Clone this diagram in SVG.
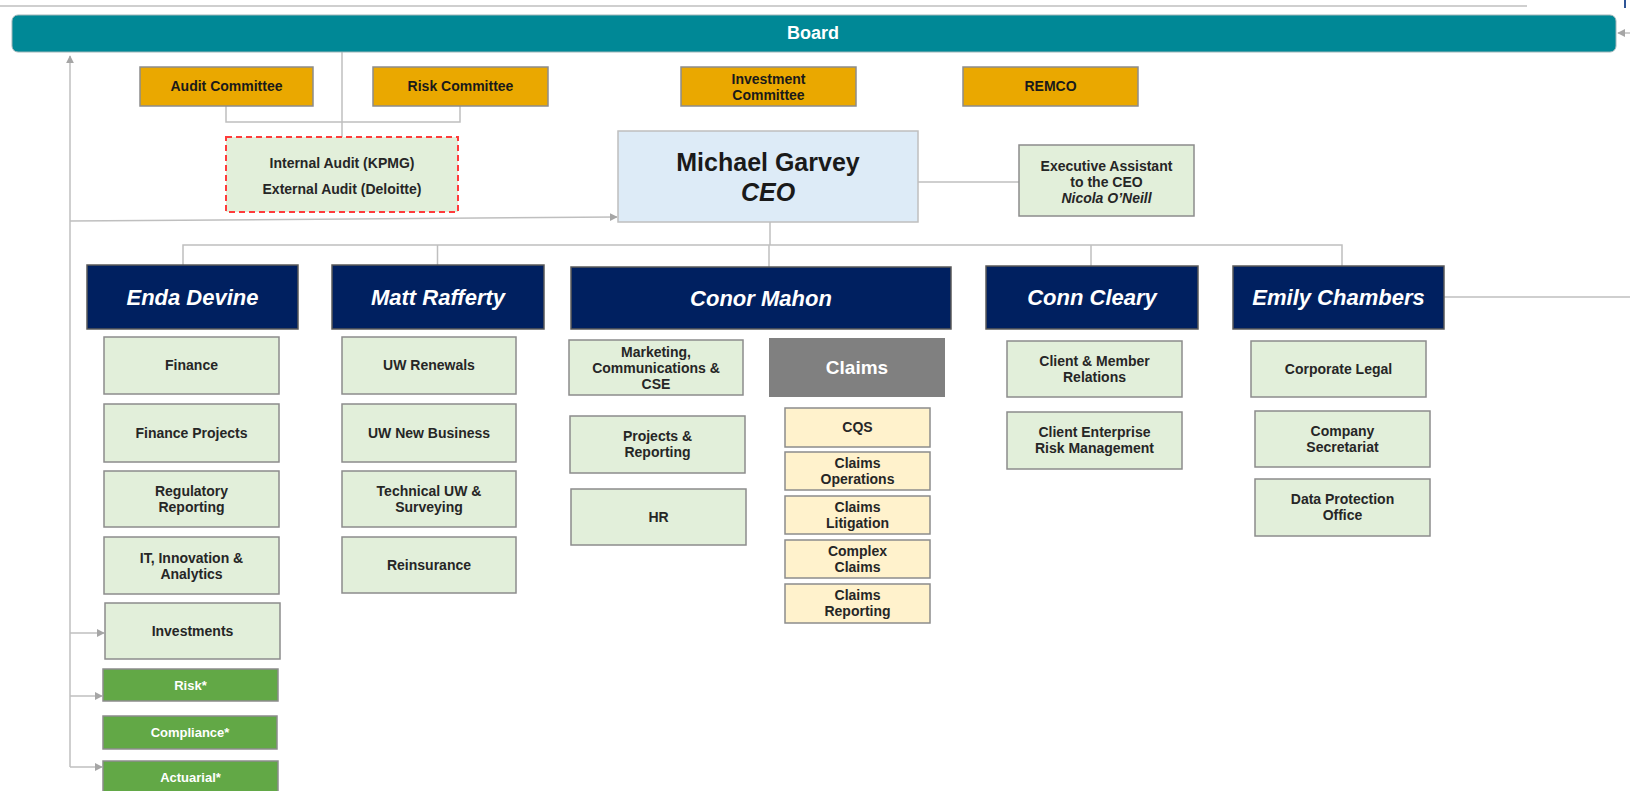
<svg xmlns="http://www.w3.org/2000/svg" width="1630" height="791" viewBox="0 0 1630 791">
<style>
text{font-family:"Liberation Sans",Arial,sans-serif;font-weight:bold;text-anchor:middle}
.con{fill:none;stroke:#BFBFBF;stroke-width:1.5}
.arr{fill:none;stroke:#BFBFBF;stroke-width:1.5;marker-end:url(#ah)}
.board{fill:#008896;stroke:#9FB5B8;stroke-width:1}
.board-t{fill:#FFFFFF;font-size:18px}
.com{fill:#EAA800;stroke:#8C8C8C;stroke-width:1.5}
.com-t{fill:#1A1A1A;font-size:14px}
.lg{fill:#E2EFDA;stroke:#8C8C8C;stroke-width:1.5}
.lg-t{fill:#262626;font-size:14px}
.ceo{fill:#DDEBF7;stroke:#BFBFBF;stroke-width:1.5}
.ceo-t{fill:#1A1A1A;font-size:25px}
.nv{fill:#002060;stroke:#595959;stroke-width:1.5}
.nv-t{fill:#FFFFFF;font-size:22px;font-style:italic}
.gr{fill:#62A846;stroke:#8C8C8C;stroke-width:1.5}
.gr-t{fill:#FFFFFF;font-size:13px}
.cl{fill:#808080}
.cl-t{fill:#FFFFFF;font-size:19px}
.yl{fill:#FFF2CC;stroke:#8C8C8C;stroke-width:1.5}
.it{font-style:italic}
</style>
<defs>
<marker id="ah" viewBox="0 0 10 10" refX="9" refY="5" markerWidth="8" markerHeight="8" markerUnits="userSpaceOnUse" orient="auto">
<path d="M0,0 L10,5 L0,10 z" fill="#A6A6A6"/>
</marker>
</defs>
<rect x="0" y="0" width="1630" height="791" fill="#FFFFFF"/>

<g id="connectors">
<path class="con" d="M0 6 H1527" stroke="#D0D0D0"/>
<path class="con" d="M1625 0 V8" style="stroke:#2F5597;stroke-width:2"/>
<path class="arr" d="M1630 33 H1618"/>
<path class="arr" d="M70 767 V56"/>
<path class="arr" d="M70 633 H104"/>
<path class="arr" d="M70 696 H102"/>
<path class="arr" d="M70 767 H102"/>
<path class="arr" d="M70 221 L617 217"/>
<path class="con" d="M342 52 V137"/>
<path class="con" d="M226 106 V122 H460 V106"/>
<path class="con" d="M918 182 H1019"/>
<path class="con" d="M770 222 V245"/>
<path class="con" d="M183 265 V245 H1342 V266"/>
<path class="con" d="M437.5 245 V265"/>
<path class="con" d="M769 245 V267"/>
<path class="con" d="M1091 245 V266"/>
<path class="con" d="M1444 297 H1630" stroke="#D9D9D9"/>
</g>

<g id="board">
<rect class="board" x="12" y="15" width="1604" height="37" rx="6"/>
<text class="board-t" x="813" y="39">Board</text>
</g>

<g id="audit-committee">
<rect class="com" x="140" y="67" width="173" height="39"/>
<text class="com-t" x="226.5" y="91">Audit Committee</text>
</g>
<g id="risk-committee">
<rect class="com" x="373" y="67" width="175" height="39"/>
<text class="com-t" x="460.5" y="91">Risk Committee</text>
</g>
<g id="investment-committee">
<rect class="com" x="681" y="67" width="175" height="39"/>
<text class="com-t" x="768.5" y="83.5">Investment</text>
<text class="com-t" x="768.5" y="99.5">Committee</text>
</g>
<g id="remco">
<rect class="com" x="963" y="67" width="175" height="39"/>
<text class="com-t" x="1050.5" y="91">REMCO</text>
</g>

<g id="audit">
<rect x="226" y="137" width="232" height="75" fill="#E2EFDA" stroke="#FF3B3B" stroke-width="2" stroke-dasharray="6 4"/>
<text class="lg-t" x="342" y="168">Internal Audit (KPMG)</text>
<text class="lg-t" x="342" y="194">External Audit (Deloitte)</text>
</g>

<g id="ceo">
<rect class="ceo" x="618" y="131" width="300" height="91"/>
<text class="ceo-t" x="768" y="171">Michael Garvey</text>
<text class="ceo-t it" x="768" y="201">CEO</text>
</g>

<g id="exec-assistant">
<rect class="lg" x="1019" y="145" width="175" height="71"/>
<text class="lg-t" x="1106.5" y="171">Executive Assistant</text>
<text class="lg-t" x="1106.5" y="187">to the CEO</text>
<text class="lg-t it" x="1106.5" y="203">Nicola O’Neill</text>
</g>

<g id="enda-devine">
<rect class="nv" x="87" y="265" width="211" height="64"/>
<text class="nv-t" x="192.5" y="305">Enda Devine</text>
</g>
<g id="matt-rafferty">
<rect class="nv" x="332" y="265" width="212" height="64"/>
<text class="nv-t" x="438" y="305">Matt Rafferty</text>
</g>
<g id="conor-mahon">
<rect class="nv" x="571" y="267" width="380" height="62"/>
<text class="nv-t" x="761" y="306">Conor Mahon</text>
</g>
<g id="conn-cleary">
<rect class="nv" x="986" y="266" width="212" height="63"/>
<text class="nv-t" x="1092" y="305">Conn Cleary</text>
</g>
<g id="emily-chambers">
<rect class="nv" x="1233" y="266" width="211" height="63"/>
<text class="nv-t" x="1338.5" y="305">Emily Chambers</text>
</g>

<g id="finance">
<rect class="lg" x="104" y="337" width="175" height="57"/>
<text class="lg-t" x="191.5" y="370">Finance</text>
</g>
<g id="finance-projects">
<rect class="lg" x="104" y="404" width="175" height="58"/>
<text class="lg-t" x="191.5" y="438">Finance Projects</text>
</g>
<g id="regulatory-reporting">
<rect class="lg" x="104" y="471" width="175" height="56"/>
<text class="lg-t" x="191.5" y="496">Regulatory</text>
<text class="lg-t" x="191.5" y="512">Reporting</text>
</g>
<g id="it-innovation">
<rect class="lg" x="104" y="537" width="175" height="57"/>
<text class="lg-t" x="191.5" y="563">IT, Innovation &amp;</text>
<text class="lg-t" x="191.5" y="579">Analytics</text>
</g>
<g id="investments">
<rect class="lg" x="105" y="603" width="175" height="56"/>
<text class="lg-t" x="192.5" y="636">Investments</text>
</g>
<g id="risk">
<rect class="gr" x="103" y="669" width="175" height="32"/>
<text class="gr-t" x="190.5" y="690">Risk*</text>
</g>
<g id="compliance">
<rect class="gr" x="103" y="716" width="174" height="33"/>
<text class="gr-t" x="190" y="737">Compliance*</text>
</g>
<g id="actuarial">
<rect class="gr" x="103" y="761" width="175" height="36"/>
<text class="gr-t" x="190.5" y="782">Actuarial*</text>
</g>

<g id="uw-renewals">
<rect class="lg" x="342" y="337" width="174" height="57"/>
<text class="lg-t" x="429" y="370">UW Renewals</text>
</g>
<g id="uw-new-business">
<rect class="lg" x="342" y="404" width="174" height="58"/>
<text class="lg-t" x="429" y="438">UW New Business</text>
</g>
<g id="technical-uw">
<rect class="lg" x="342" y="471" width="174" height="56"/>
<text class="lg-t" x="429" y="496">Technical UW &amp;</text>
<text class="lg-t" x="429" y="512">Surveying</text>
</g>
<g id="reinsurance">
<rect class="lg" x="342" y="537" width="174" height="56"/>
<text class="lg-t" x="429" y="570">Reinsurance</text>
</g>

<g id="marketing">
<rect class="lg" x="569" y="340" width="174" height="55"/>
<text class="lg-t" x="656" y="357">Marketing,</text>
<text class="lg-t" x="656" y="373">Communications &amp;</text>
<text class="lg-t" x="656" y="389">CSE</text>
</g>
<g id="projects-reporting">
<rect class="lg" x="570" y="416" width="175" height="57"/>
<text class="lg-t" x="657.5" y="441">Projects &amp;</text>
<text class="lg-t" x="657.5" y="457">Reporting</text>
</g>
<g id="hr">
<rect class="lg" x="571" y="489" width="175" height="56"/>
<text class="lg-t" x="658.5" y="522">HR</text>
</g>
<g id="claims">
<rect class="cl" x="769" y="338" width="176" height="59"/>
<text class="cl-t" x="857" y="374">Claims</text>
</g>
<g id="cqs">
<rect class="yl" x="785" y="408" width="145" height="39"/>
<text class="lg-t" x="857.5" y="432">CQS</text>
</g>
<g id="claims-operations">
<rect class="yl" x="785" y="452" width="145" height="38"/>
<text class="lg-t" x="857.5" y="468">Claims</text>
<text class="lg-t" x="857.5" y="484">Operations</text>
</g>
<g id="claims-litigation">
<rect class="yl" x="785" y="496" width="145" height="38"/>
<text class="lg-t" x="857.5" y="512">Claims</text>
<text class="lg-t" x="857.5" y="528">Litigation</text>
</g>
<g id="complex-claims">
<rect class="yl" x="785" y="540" width="145" height="38"/>
<text class="lg-t" x="857.5" y="556">Complex</text>
<text class="lg-t" x="857.5" y="572">Claims</text>
</g>
<g id="claims-reporting">
<rect class="yl" x="785" y="584" width="145" height="39"/>
<text class="lg-t" x="857.5" y="600">Claims</text>
<text class="lg-t" x="857.5" y="616">Reporting</text>
</g>

<g id="client-member-relations">
<rect class="lg" x="1007" y="341" width="175" height="56"/>
<text class="lg-t" x="1094.5" y="366">Client &amp; Member</text>
<text class="lg-t" x="1094.5" y="382">Relations</text>
</g>
<g id="client-erm">
<rect class="lg" x="1007" y="412" width="175" height="57"/>
<text class="lg-t" x="1094.5" y="437">Client Enterprise</text>
<text class="lg-t" x="1094.5" y="453">Risk Management</text>
</g>

<g id="corporate-legal">
<rect class="lg" x="1251" y="341" width="175" height="56"/>
<text class="lg-t" x="1338.5" y="374">Corporate Legal</text>
</g>
<g id="company-secretariat">
<rect class="lg" x="1255" y="411" width="175" height="56"/>
<text class="lg-t" x="1342.5" y="436">Company</text>
<text class="lg-t" x="1342.5" y="452">Secretariat</text>
</g>
<g id="data-protection">
<rect class="lg" x="1255" y="479" width="175" height="57"/>
<text class="lg-t" x="1342.5" y="504">Data Protection</text>
<text class="lg-t" x="1342.5" y="520">Office</text>
</g>
</svg>
